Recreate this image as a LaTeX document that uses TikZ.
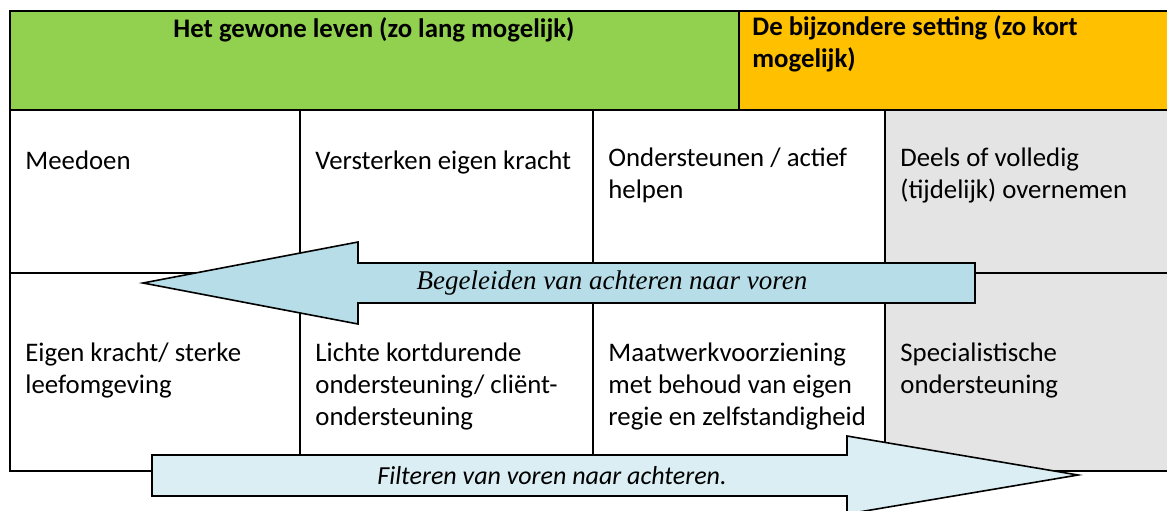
\documentclass[tikz,border=0pt]{standalone}
\usepackage{fontspec}
\setmainfont{Carlito}
\newfontfamily\pijlserif{Liberation Serif}
\usetikzlibrary{positioning}

\definecolor{leven}{HTML}{92D050}
\definecolor{setting}{HTML}{FFC000}
\definecolor{overnemen}{HTML}{E4E4E4}
\definecolor{begeleid}{HTML}{B7DDE8}
\definecolor{filter}{HTML}{DAEEF3}

% tekst hangt aan de bovenkant van een strut, eerste basislijn = y + 22.4
\tikzset{
	cel/.style={anchor=north west, align=left, inner sep=0pt,
		font=\fontsize{13.4}{16}\selectfont, execute at begin node=\strut},
	kop/.style={cel, font=\fontsize{13.4}{16}\selectfont\bfseries},
	rooster/.style={line width=1pt},
	pijl/.style={draw, line width=0.8pt, line join=miter},
}

\begin{document}
\begin{tikzpicture}[x=0.5pt,y=-0.5pt]
		\useasboundingbox (0,0) rectangle (1167,510);

		% vlakken
		\fill[leven] (10,11) rectangle (739,110);
		\fill[setting] (739,11) rectangle (1167,110);
		\fill[overnemen] (885,110) rectangle (1167,471);

		% rooster
		\draw[rooster] (1167,11) -- (10,11) -- (10,471) -- (1167,471);
		\draw[rooster] (10,110) -- (1167,110);
		\draw[rooster] (10,273) -- (1167,273);
		\draw[rooster] (739,11) -- (739,110);
		\draw[rooster] (300,110) -- (300,471);
		\draw[rooster] (593,110) -- (593,471);
		\draw[rooster] (885,110) -- (885,471);

		% koppen
		\node (gewoon)[kop, anchor=north] at (374,15) {Het gewone leven (zo lang mogelijk)};
		\node (bijzonder)[kop] at (752,15) {De bijzondere setting (zo kort\\mogelijk)};

		% bovenste rij
		\node (meedoen)[cel] at (25,147) {Meedoen};
		\node (versterken)[cel] at (315,147) {Versterken eigen kracht};
		\node (helpen)[cel] at (608,147) {Ondersteunen / actief\\helpen};
		\node (overnemen)[cel] at (900,147) {Deels of volledig\\(tijdelijk) overnemen};

		% onderste rij
		\node (kracht)[cel] at (25,342) {Eigen kracht/ sterke\\leefomgeving};
		\node (licht)[cel] at (315,342) {Lichte kortdurende\\ondersteuning/ cliënt-\\ondersteuning};
		\node (maatwerk)[cel] at (608,342) {Maatwerkvoorziening\\met behoud van eigen\\regie en zelfstandigheid};
		\node (specialist)[cel] at (900,342) {Specialistische\\ondersteuning};

		% pijlen
		\filldraw[pijl, fill=begeleid] (143,283) -- (358,242) -- (358,263) -- (975,263)
			-- (975,303) -- (358,303) -- (358,324) -- cycle;
		\node (begeleiden)[font=\pijlserif\itshape\fontsize{13.5}{16}\selectfont] at (612,283)
			{Begeleiden van achteren naar voren};

		\filldraw[pijl, fill=filter] (152,455) -- (847,455) -- (847,436) -- (1078,475)
			-- (847,514) -- (847,496) -- (152,496) -- cycle;
		\node (filteren)[font=\itshape\fontsize{13}{16}\selectfont] at (552,476)
			{Filteren van voren naar achteren.};
	\end{tikzpicture}
\end{document}
